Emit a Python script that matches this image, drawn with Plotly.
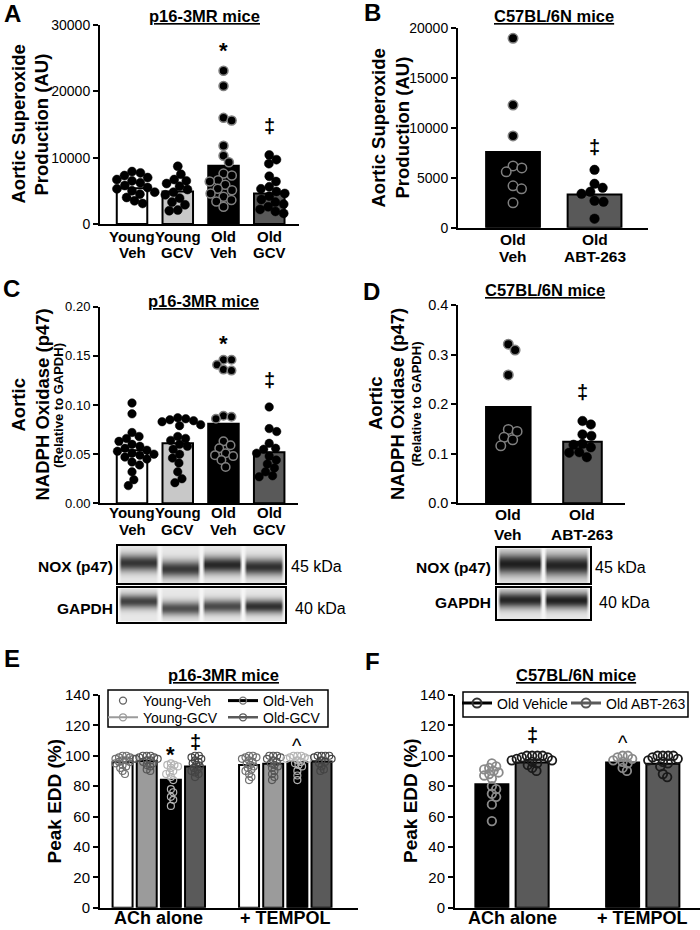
import math
import plotly.graph_objects as go

W, H = 700, 930
FONT = "Liberation Sans, Arial, Helvetica, sans-serif"

# ============================ DATA ============================
# Panel A - aortic superoxide production, p16-3MR mice
A_TITLE = "p16-3MR mice"
A_CATS = ["Young Veh", "Young GCV", "Old Veh", "Old GCV"]
A_MEANS = [5400, 4900, 8800, 4600]
A_YOUNG_VEH = [7900, 7700, 7300, 7000, 6700, 6500, 6200, 5800, 5500, 5300, 5000, 4800, 4500, 4000, 3500, 3100]
A_YOUNG_GCV = [8700, 7500, 6700, 6500, 6100, 5700, 5200, 4800, 4400, 3900, 3300, 2900, 2100, 2000]
A_OLD_VEH = [23100, 20800, 16000, 15600, 11800, 10300, 9300, 7600, 7300, 6600, 6400, 5900, 5300, 5100,
             4600, 4100, 3600, 3400, 2600]
A_OLD_GCV = [10400, 9700, 9100, 7200, 6400, 5600, 5300, 4900, 4600, 4200, 3700, 3300, 3000, 2600, 2200, 1900, 1600]
A_YTICKS = [0, 10000, 20000, 30000]
A_SIG = ["", "", "*", "‡"]
A_SIG_Y = [None, None, 27000, 14700]

# Panel B - aortic superoxide production, C57BL/6N mice
B_TITLE = "C57BL/6N mice"
B_CATS = ["Old Veh", "Old ABT-263"]
B_MEANS = [7600, 3340]
B_OLD_VEH = [19000, 12300, 9200, 6200, 6000, 5600, 4200, 3900, 2500]
B_OLD_ABT = [5800, 4400, 4000, 3600, 3400, 2700, 2600, 900]
B_YTICKS = [0, 5000, 10000, 15000, 20000]
B_SIG = ["", "‡"]
B_SIG_Y = [None, 8100]

# Panel C - NADPH oxidase p47, p16-3MR mice
C_TITLE = "p16-3MR mice"
C_CATS = ["Young Veh", "Young GCV", "Old Veh", "Old GCV"]
C_MEANS = [0.054, 0.061, 0.081, 0.052]
C_YOUNG_VEH = [0.102, 0.091, 0.072, 0.068, 0.066, 0.063, 0.060, 0.058, 0.056, 0.054, 0.053, 0.051, 0.050,
               0.049, 0.047, 0.045, 0.042, 0.039, 0.032, 0.024, 0.018]
C_YOUNG_GCV = [0.087, 0.086, 0.085, 0.084, 0.083, 0.080, 0.079, 0.068, 0.066, 0.064, 0.060, 0.058, 0.055,
               0.050, 0.046, 0.041, 0.032, 0.025, 0.021]
C_OLD_VEH = [0.146, 0.146, 0.141, 0.136, 0.135, 0.089, 0.088, 0.086, 0.063, 0.059, 0.056, 0.051, 0.049,
             0.048, 0.044, 0.037]
C_OLD_GCV = [0.098, 0.076, 0.073, 0.061, 0.056, 0.055, 0.051, 0.048, 0.044, 0.040, 0.036, 0.032, 0.028, 0.027]
C_YTICKS = [0.0, 0.05, 0.10, 0.15, 0.20]
C_SIG = ["", "", "*", "‡"]
C_SIG_Y = [None, None, 0.169, 0.125]

# Panel D - NADPH oxidase p47, C57BL/6N mice
D_TITLE = "C57BL/6N mice"
D_CATS = ["Old Veh", "Old ABT-263"]
D_MEANS = [0.194, 0.124]
D_OLD_VEH = [0.321, 0.309, 0.259, 0.149, 0.145, 0.133, 0.128, 0.116]
D_OLD_ABT = [0.166, 0.159, 0.139, 0.136, 0.120, 0.118, 0.113, 0.103, 0.102, 0.093]
D_YTICKS = [0.0, 0.1, 0.2, 0.3, 0.4]
D_SIG = ["", "‡"]
D_SIG_Y = [None, 0.225]

# Western blots (relative band darkness per lane)
BLOT_ROWS = ["NOX (p47)", "GAPDH"]
BLOT_KDA = ["45 kDa", "40 kDa"]
C_NOX_BAND = [0.86, 0.84, 0.92, 0.88]
C_GAPDH_BAND = [0.80, 0.74, 0.76, 0.88]
D_NOX_BAND = [0.96, 0.94]
D_GAPDH_BAND = [0.93, 0.95]

# Panel E - peak EDD, p16-3MR mice
E_TITLE = "p16-3MR mice"
E_GROUPS = ["ACh alone", "+ TEMPOL"]
E_SERIES = ["Young-Veh", "Young-GCV", "Old-Veh", "Old-GCV"]
E_MEANS_ACH = [95.8, 96.5, 84.2, 93.0]
E_MEANS_TEMPOL = [94.0, 94.7, 95.8, 96.3]
E_ACH_YOUNG_VEH = [100, 100, 99, 99, 98, 98, 97, 97, 96, 96, 95, 94, 93, 92, 90, 88]
E_ACH_YOUNG_GCV = [100, 100, 100, 99, 99, 98, 98, 97, 97, 96, 95, 94, 93, 91, 90]
E_ACH_OLD_VEH = [95, 94, 94, 93, 92, 90, 89, 88, 86, 84, 78, 76, 73, 71, 67]
E_ACH_OLD_GCV = [100, 100, 99, 98, 97, 96, 95, 94, 93, 92, 91, 90, 89, 88, 86]
E_TEM_YOUNG_VEH = [100, 100, 99, 99, 98, 97, 96, 95, 94, 93, 92, 91, 90, 88, 86, 84]
E_TEM_YOUNG_GCV = [100, 100, 100, 99, 98, 97, 96, 95, 94, 93, 92, 90, 88, 86, 84]
E_TEM_OLD_VEH = [100, 100, 100, 99, 99, 98, 98, 97, 96, 95, 94, 93, 90, 87, 84]
E_TEM_OLD_GCV = [100, 100, 100, 100, 99, 98, 97, 96, 95, 93, 91, 90]
E_YTICKS = [0, 20, 40, 60, 80, 100, 120, 140]
E_SIG = [("*", 0, 2, 105.0), ("‡", 0, 3, 109.3), ("^", 1, 2, 109.0)]

# Panel F - peak EDD, C57BL/6N mice
F_TITLE = "C57BL/6N mice"
F_GROUPS = ["ACh alone", "+ TEMPOL"]
F_SERIES = ["Old Vehicle", "Old ABT-263"]
F_MEANS_ACH = [81.3, 95.5]
F_MEANS_TEMPOL = [95.5, 94.7]
F_ACH_OLD_VEH = [95, 93, 92, 91, 90, 89, 88, 87, 85, 80, 78, 75, 73, 68, 57]
F_ACH_OLD_ABT = [100, 100, 100, 100, 99, 99, 98, 97, 97, 96, 95, 94, 92, 90]
F_TEM_OLD_VEH = [100, 100, 99, 98, 97, 96, 95, 92, 90]
F_TEM_OLD_ABT = [100, 100, 100, 100, 99, 98, 97, 96, 95, 93, 88, 86]
F_YTICKS = [0, 20, 40, 60, 80, 100, 120, 140]
F_SIG = [("‡", 0, 1, 113.7), ("^", 1, 0, 110.9)]

# ============================ HELPERS ============================
def px2x(x):
    return x / W


def px2y(y):
    return 1 - y / H


layout = dict(width=W, height=H, margin=dict(l=0, r=0, t=0, b=0, autoexpand=False), paper_bgcolor="white",
              plot_bgcolor="rgba(0,0,0,0)", barmode="overlay", showlegend=True, template="none",
              font=dict(family=FONT, color="black"), hovermode=False)
annotations = []
shapes = []
traces = []
scales = {}


def names(n):
    return ("x" if n == 1 else f"x{n}"), ("y" if n == 1 else f"y{n}")


def add_panel(n, x0, x1, ytop, ybot, xrange, yrange, yticks, tickfmt, tsize):
    xn, yn = names(n)
    layout["xaxis" + ("" if n == 1 else str(n))] = dict(
        domain=[px2x(x0), px2x(x1)], range=xrange, anchor=yn, showline=True, linecolor="black",
        linewidth=2, showgrid=False, zeroline=False, ticks="", showticklabels=False, fixedrange=True,
        automargin=False)
    layout["yaxis" + ("" if n == 1 else str(n))] = dict(
        domain=[px2y(ybot), px2y(ytop)], range=yrange, anchor=xn, showline=True, linecolor="black",
        linewidth=2, showgrid=False, zeroline=False, ticks="outside", ticklen=5, tickwidth=2,
        tickcolor="black", tickvals=yticks, tickformat=tickfmt, automargin=False,
        tickfont=dict(family=FONT, size=tsize, color="black"), fixedrange=True)
    scales[n] = ((x1 - x0) / (xrange[1] - xrange[0]), (ybot - ytop) / (yrange[1] - yrange[0]))


def swarm(vals, diam, xs, ys):
    order = sorted(range(len(vals)), key=lambda i: -vals[i])
    placed = []
    offs = [0.0] * len(vals)
    for i in order:
        y = vals[i] * ys
        cands = [0.0]
        for (px, py) in placed:
            dy = abs(py - y)
            if dy < diam:
                dx = math.sqrt(diam * diam - dy * dy)
                cands += [px + dx, px - dx]
        cands.sort(key=lambda c: (round(abs(c), 6), -c))
        chosen = cands[-1]
        for c in cands:
            if all((c - px) ** 2 + (y - py) ** 2 >= diam * diam - 1e-6 for px, py in placed):
                chosen = c
                break
        placed.append((chosen, y))
        offs[i] = chosen / xs
    return offs


def add_points(n, center, vals, size, fill, line_color, line_w, gap=0.95):
    xn, yn = names(n)
    xs, ys = scales[n]
    offs = swarm(vals, size * gap, xs, ys)
    traces.append(go.Scatter(x=[center + o for o in offs], y=vals, mode="markers", xaxis=xn, yaxis=yn,
                             showlegend=False, cliponaxis=False,
                             marker=dict(size=size, color=fill, line=dict(color=line_color, width=line_w))))


def text(x, y, s, size, bold=False, xanchor="center", yanchor="middle", angle=0, xref="paper",
         yref="paper", yshift=0):
    annotations.append(dict(x=x, y=y, xref=xref, yref=yref, text=("<b>%s</b>" % s) if bold else s,
                            showarrow=False, xanchor=xanchor, yanchor=yanchor, textangle=angle,
                            font=dict(family=FONT, size=size, color="black"), yshift=yshift))


def cat_labels(n, cats, line_ys, size):
    xn, _ = names(n)
    for i, c in enumerate(cats):
        parts = c.split(" ", 1) if len(line_ys) > 1 else [c]
        for p, yy in zip(parts, line_ys):
            text(i, px2y(yy), p, size, bold=True, xref=xn)


def sig_marks(n, positions, marks, values):
    xn, yn = names(n)
    for p, m, v in zip(positions, marks, values):
        if m:
            text(p, v, m, 22 if m == "*" else 20, bold=(m != "^"), xref=xn, yref=yn,
                 yshift=-6 if m == "*" else (-4 if m == "^" else 0))


def legend_box(name, x, ytop, size=14):
    layout[name] = dict(x=px2x(x), y=px2y(ytop), xanchor="left", yanchor="top", orientation="h",
                        bgcolor="rgba(0,0,0,0)", borderwidth=0,
                        font=dict(family=FONT, size=size, color="black"))


# ============================ PANEL A ============================
add_panel(1, 100, 299, 25, 224, [-0.70, 3.65], [0, 30000], A_YTICKS, "d", 14)
A_COLORS = ["white", "#c8c8c8", "black", "#595959"]
traces.append(go.Bar(x=list(range(4)), y=A_MEANS, width=0.667, xaxis="x", yaxis="y", showlegend=False,
                     marker=dict(color=A_COLORS, line=dict(color="black", width=2))))
for i, vals in enumerate([A_YOUNG_VEH, A_YOUNG_GCV, A_OLD_VEH, A_OLD_GCV]):
    add_points(1, i, vals, 9, "black", "#808080" if i == 2 else "black", 1.5 if i == 2 else 0.5)
sig_marks(1, range(4), A_SIG, A_SIG_Y)
cat_labels(1, A_CATS, [236, 252], 15)

# ============================ PANEL B ============================
add_panel(2, 458, 648, 28.3, 227.7, [-0.675, 1.656], [0, 20000], B_YTICKS, "d", 14)
BD_COLORS = ["black", "#595959"]
traces.append(go.Bar(x=[0, 1], y=B_MEANS, width=0.66, xaxis="x2", yaxis="y2", showlegend=False,
                     marker=dict(color=BD_COLORS, line=dict(color="black", width=2))))
add_points(2, 0, B_OLD_VEH, 9.5, "black", "#808080", 1.5)
add_points(2, 1, B_OLD_ABT, 9.5, "black", "black", 0.5)
sig_marks(2, range(2), B_SIG, B_SIG_Y)
cat_labels(2, B_CATS, [239, 256], 15.5)

# ============================ PANEL C ============================
add_panel(3, 100, 298, 306.7, 503.3, [-0.70, 3.63], [0, 0.20], C_YTICKS, ".2f", 13)
traces.append(go.Bar(x=list(range(4)), y=C_MEANS, width=0.667, xaxis="x3", yaxis="y3", showlegend=False,
                     marker=dict(color=A_COLORS, line=dict(color="black", width=2))))
for i, vals in enumerate([C_YOUNG_VEH, C_YOUNG_GCV, C_OLD_VEH, C_OLD_GCV]):
    add_points(3, i, vals, 8.5, "black", "#808080" if i == 2 else "black", 1.5 if i == 2 else 0.5)
sig_marks(3, range(4), C_SIG, C_SIG_Y)
cat_labels(3, C_CATS, [512, 529], 15)

# ============================ PANEL D ============================
add_panel(4, 458.3, 625, 305, 503.3, [-0.674, 1.573], [0, 0.4], D_YTICKS, ".1f", 14.5)
traces.append(go.Bar(x=[0, 1], y=D_MEANS, width=[0.60, 0.52], xaxis="x4", yaxis="y4", showlegend=False,
                     marker=dict(color=BD_COLORS, line=dict(color="black", width=2))))
add_points(4, 0, D_OLD_VEH, 9.5, "black", "#808080", 1.5)
add_points(4, 1, D_OLD_ABT, 9.5, "black", "black", 0.5)
sig_marks(4, range(2), D_SIG, D_SIG_Y)
cat_labels(4, D_CATS, [514, 534], 15.5)

# ============================ PANEL E ============================
add_panel(5, 100, 358, 695, 907.7, [-0.465, 1.575], [0, 140], E_YTICKS, "d", 15)
E_COLORS = ["white", "#9b9b9b", "black", "#5a5a5a"]
E_PT = ["#707070", "#555555", "#b4b4b4", "#444444"]
E_STEP, E_W = 0.191, 0.158
e_pts = [[E_ACH_YOUNG_VEH, E_ACH_YOUNG_GCV, E_ACH_OLD_VEH, E_ACH_OLD_GCV],
         [E_TEM_YOUNG_VEH, E_TEM_YOUNG_GCV, E_TEM_OLD_VEH, E_TEM_OLD_GCV]]
for s in range(4):
    off = (s - 1.5) * E_STEP
    traces.append(go.Bar(x=[g + off for g in range(2)], y=[E_MEANS_ACH[s], E_MEANS_TEMPOL[s]], width=E_W,
                         xaxis="x5", yaxis="y5", showlegend=False,
                         marker=dict(color=E_COLORS[s], line=dict(color="black", width=2))))
for s in range(4):
    off = (s - 1.5) * E_STEP
    for g in range(2):
        add_points(5, g + off, e_pts[g][s], 7, "rgba(0,0,0,0)", E_PT[s], 1.2, gap=0.55)
for m, g, s, v in E_SIG:
    sig_marks(5, [g + (s - 1.5) * E_STEP], [m], [v])
xn5, _ = names(5)
for g, lab in enumerate(E_GROUPS):
    annotations.append(dict(x=g, y=px2y(929), xref=xn5, yref="paper", text="<b>%s</b>" % lab,
                            showarrow=False, xanchor="center", yanchor="bottom", borderpad=0,
                            font=dict(family=FONT, size=18, color="black")))

# legend-only entries: 2 x 2 grid inside a frame, one small legend per entry
E_LEG_STYLE = [dict(mode="markers", line=None, mc="#606060"),
               dict(mode="lines+markers", line=dict(color="#9b9b9b", width=2), mc="#9b9b9b"),
               dict(mode="lines+markers", line=dict(color="black", width=3), mc="#707070"),
               dict(mode="lines+markers", line=dict(color="#5a5a5a", width=2.5), mc="#5a5a5a")]
E_LEG_POS = [(103, 685), (103, 701.7), (223, 685), (223, 701.7)]
for s in range(4):
    st = E_LEG_STYLE[s]
    lg = "legend%d" % (2 + s)
    kw = dict(x=[None], y=[None], mode=st["mode"], name=E_SERIES[s], xaxis="x5", yaxis="y5",
              legend=lg, showlegend=True,
              marker=dict(size=7, color="rgba(0,0,0,0)", line=dict(color=st["mc"], width=1.3)))
    if st["line"]:
        kw["line"] = st["line"]
    traces.append(go.Scatter(**kw))
    legend_box(lg, *E_LEG_POS[s])
shapes.append(dict(type="rect", xref="paper", yref="paper", x0=px2x(108), x1=px2x(328), y0=px2y(690),
                   y1=px2y(727), line=dict(color="black", width=1.5)))

# ============================ PANEL F ============================
add_panel(6, 455, 700, 695, 907.7, [-0.436, 1.438], [0, 140], F_YTICKS, "d", 15)
F_COLORS = ["black", "#5a5a5a"]
F_PT = ["#8a8a8a", "#1a1a1a"]
F_STEP, F_W = 0.308, 0.2525
f_pts = [[F_ACH_OLD_VEH, F_ACH_OLD_ABT], [F_TEM_OLD_VEH, F_TEM_OLD_ABT]]
for s in range(2):
    off = (s - 0.5) * F_STEP
    traces.append(go.Bar(x=[g + off for g in range(2)], y=[F_MEANS_ACH[s], F_MEANS_TEMPOL[s]], width=F_W,
                         xaxis="x6", yaxis="y6", showlegend=False,
                         marker=dict(color=F_COLORS[s], line=dict(color="black", width=2))))
for s in range(2):
    off = (s - 0.5) * F_STEP
    for g in range(2):
        add_points(6, g + off, f_pts[g][s], 8.5, "rgba(0,0,0,0)", F_PT[s], 1.8, gap=0.62)
for m, g, s, v in F_SIG:
    sig_marks(6, [g + (s - 0.5) * F_STEP], [m], [v])
xn6, _ = names(6)
for g, lab in enumerate(F_GROUPS):
    annotations.append(dict(x=g, y=px2y(929), xref=xn6, yref="paper", text="<b>%s</b>" % lab,
                            showarrow=False, xanchor="center", yanchor="bottom", borderpad=0,
                            font=dict(family=FONT, size=18, color="black")))
F_LEG = [dict(color="black", mc="#333333"), dict(color="#5a5a5a", mc="#5a5a5a")]
F_LEG_POS = [(457, 687.5), (566, 687.5)]
for s in range(2):
    lg = "legend%d" % (6 + s)
    traces.append(go.Scatter(x=[None], y=[None], mode="lines+markers", name=F_SERIES[s], xaxis="x6",
                             yaxis="y6", legend=lg, showlegend=True,
                             line=dict(color=F_LEG[s]["color"], width=3),
                             marker=dict(size=9, color="rgba(0,0,0,0)",
                                         line=dict(color=F_LEG[s]["mc"], width=2))))
    legend_box(lg, *F_LEG_POS[s])
shapes.append(dict(type="rect", xref="paper", yref="paper", x0=px2x(463), x1=px2x(688), y0=px2y(692),
                   y1=px2y(717), line=dict(color="black", width=1.5)))
layout["legend"] = dict(visible=False)

# ============================ BLOTS ============================
BLOT_STYLE = {
    "C": dict(x0=118.3, x1=285, rows=[(546, 583.3, C_NOX_BAND, [17, 23, 19, 21], 6.0),
                                      (588.3, 621.7, C_GAPDH_BAND, [13.5, 20.5, 18.5, 18.5], 5.0)],
              lab_r=115, kda_l=[289, 292.5], lab_y=[566, 608]),
    "D": dict(x0=496.7, x1=590, rows=[(548.3, 583.3, D_NOX_BAND, [16, 17.5], 7.5),
                                      (588.3, 619.3, D_GAPDH_BAND, [12, 12.5], 5.8)],
              lab_r=493, kda_l=[593, 597], lab_y=[567, 602]),
}
axn = 7
for key in ["C", "D"]:
    st = BLOT_STYLE[key]
    for r, (yt, yb, band, pos, sig) in enumerate(st["rows"]):
        nx = int(round(st["x1"] - st["x0"]))
        ny = int(round(yb - yt))
        nl = len(band)
        lw = nx / nl
        z = []
        for j in range(ny):
            yy = j + 0.5
            row = []
            for i in range(nx):
                xx = i + 0.5
                k = min(int(xx // lw), nl - 1)
                lx = xx - k * lw
                edge = min(lx, lw - lx)
                taper = max(0.0, min(1.0, (edge - 0.8) / 3.0))
                b = band[k] * math.exp(-0.5 * ((yy - pos[k]) / sig) ** 2)
                row.append(0.01 + taper * (0.06 + 0.93 * b))
            z.append(row)
        xn, yn = names(axn)
        layout["xaxis%d" % axn] = dict(domain=[px2x(st["x0"]), px2x(st["x1"])], range=[0, nx], anchor=yn,
                                       showline=True, mirror=True, linecolor="black", linewidth=2,
                                       showgrid=False, zeroline=False, showticklabels=False, ticks="",
                                       fixedrange=True, automargin=False)
        layout["yaxis%d" % axn] = dict(domain=[px2y(yb), px2y(yt)], range=[ny, 0], anchor=xn,
                                       showline=True, mirror=True, linecolor="black", linewidth=2,
                                       showgrid=False, zeroline=False, showticklabels=False, ticks="",
                                       fixedrange=True, automargin=False)
        traces.append(go.Heatmap(z=z, x=[i + 0.5 for i in range(nx)], y=[j + 0.5 for j in range(ny)],
                                 xaxis=xn, yaxis=yn, zmin=0, zmax=1, showscale=False, hoverinfo="skip",
                                 colorscale=[[0, "#f7f7f7"], [0.5, "#8a8a8a"], [1, "#161616"]]))
        text(px2x(st["lab_r"]), px2y(st["lab_y"][r]), BLOT_ROWS[r], 15.5, bold=True, xanchor="right")
        text(px2x(st["kda_l"][r]), px2y(st["lab_y"][r]), BLOT_KDA[r], 16, xanchor="left")
        axn += 1

# ============================ TITLES / LABELS ============================
for lab, x, y in [("A", 12, 14), ("B", 372, 12), ("C", 11, 288), ("D", 371, 291), ("E", 12, 658),
                  ("F", 372, 661)]:
    text(px2x(x), px2y(y), lab, 24, bold=True)
for t, x, y in [(A_TITLE, 204, 16), (B_TITLE, 554, 15.5), (C_TITLE, 203, 301), (D_TITLE, 545, 290),
                (E_TITLE, 223, 675), (F_TITLE, 576, 675)]:
    text(px2x(x), px2y(y), "<u>%s</u>" % t, 16.5, bold=True)

for lines, yc in [([("Aortic Superoxide", 18, 18.5), ("Production (AU)", 41, 18.5)], 124.5),
                  ([("Aortic Superoxide", 377.5, 18.5), ("Production (AU)", 401.5, 18.5)], 128),
                  ([("Aortic", 17.5, 18.5), ("NADPH Oxidase (p47)", 41.5, 18.5),
                    ("(Relative to GAPDH)", 58, 13)], 405),
                  ([("Aortic", 376, 18.5), ("NADPH Oxidase (p47)", 398, 18.5),
                    ("(Relative to GAPDH)", 416.5, 13)], 404),
                  ([("Peak EDD (%)", 53.5, 19)], 801),
                  ([("Peak EDD (%)", 410, 19)], 801)]:
    for s, x, sz in lines:
        text(px2x(x), px2y(yc), s, sz, bold=True, angle=-90)

layout["annotations"] = annotations
layout["shapes"] = shapes
fig = go.Figure(data=traces)
fig.update_layout(**layout)
fig.write_html("out.html", config={"displayModeBar": False, "staticPlot": True},
               post_script="document.body.style.margin='0px';document.body.style.padding='0px';")
